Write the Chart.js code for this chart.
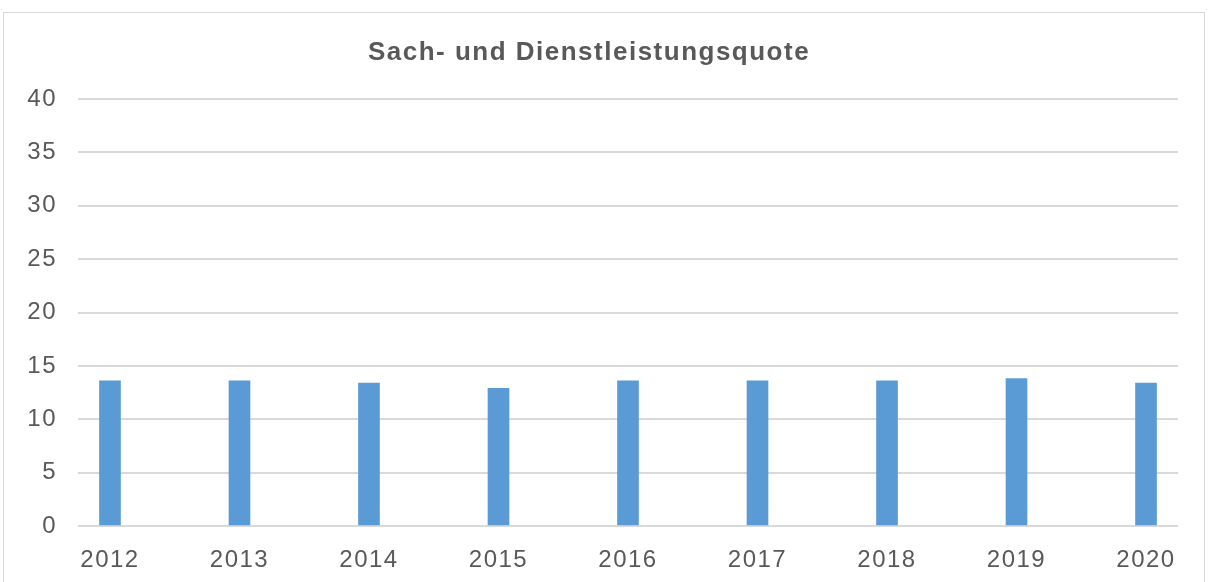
<!DOCTYPE html>
<html>
<head>
<meta charset="utf-8">
<script src="https://cdn.jsdelivr.net/npm/chart.js@4.4.1/dist/chart.umd.min.js"></script>
<style>
  html, body { margin: 0; padding: 0; background: #fff; overflow: hidden; }
  .frame {
    position: absolute; left: 3px; top: 12px; width: 1202px; height: 620px;
    border: 1px solid #d9d9d9; box-sizing: border-box;
  }
  .wrap { position: absolute; left: 0; top: 0; width: 1209px; height: 582px; }
</style>
</head>
<body>
<div class="frame"></div>
<div class="wrap"><canvas id="quote"></canvas></div>
<script>
const title = 'Sach- und Dienstleistungsquote'
const years = [2012, 2013, 2014, 2015, 2016, 2017, 2018, 2019, 2020]
const quote = [13.6, 13.6, 13.4, 12.9, 13.6, 13.6, 13.6, 13.8, 13.4]
const yTicks = [0, 5, 10, 15, 20, 25, 30, 35, 40]

const textColor = '#595959'
const gridColor = '#d9d9d9'
const barColor = '#5b9bd5'

// the original text is a bit wider than Liberation Sans, so space it out
const spacing = {
    id: 'spacing',
    beforeDraw(chart) {
        chart.ctx.letterSpacing = '1.5px'
    }
}

const ctx = document.getElementById('quote')
ctx.width = 1209
ctx.height = 582

new Chart(ctx, {
    type: 'bar',
    data: {
        datasets: [{
            label: title,
            data: years.map((y, i) => ({ x: y, y: quote[i] })),
            backgroundColor: barColor,
            barThickness: 21
        }]
    },
    options: {
        responsive: false,
        animation: false,
        layout: { padding: { left: 0, right: 31, top: 0, bottom: 0 } },
        plugins: {
            legend: { display: false },
            tooltip: { enabled: false },
            title: {
                display: true,
                text: title,
                color: textColor,
                font: { family: 'Liberation Sans, Arial, sans-serif', size: 26, weight: 'bold' },
                padding: { top: 37.5, bottom: 30.3 }
            }
        },
        scales: {
            x: {
                type: 'linear',
                offset: false,
                min: years[0] - 0.247,
                max: years[years.length - 1] + 0.247,
                grid: { display: false, offset: false },
                border: { display: false },
                afterBuildTicks: axis => { axis.ticks = years.map(v => ({ value: v })) },
                afterFit: axis => { axis.height = 56 },
                ticks: {
                    color: textColor,
                    padding: 12,
                    maxRotation: 0,
                    autoSkip: false,
                    font: { family: 'Liberation Sans, Arial, sans-serif', size: 24 },
                    callback: v => String(v)
                }
            },
            y: {
                min: 0,
                max: 40,
                afterBuildTicks: axis => { axis.ticks = yTicks.map(v => ({ value: v })) },
                afterFit: axis => { axis.width = 78 },
                grid: { color: gridColor, lineWidth: 2, drawTicks: false },
                border: { display: false },
                ticks: {
                    color: textColor,
                    padding: 21,
                    font: { family: 'Liberation Sans, Arial, sans-serif', size: 24 }
                }
            }
        }
    },
    plugins: [spacing]
})
</script>
</body>
</html>
